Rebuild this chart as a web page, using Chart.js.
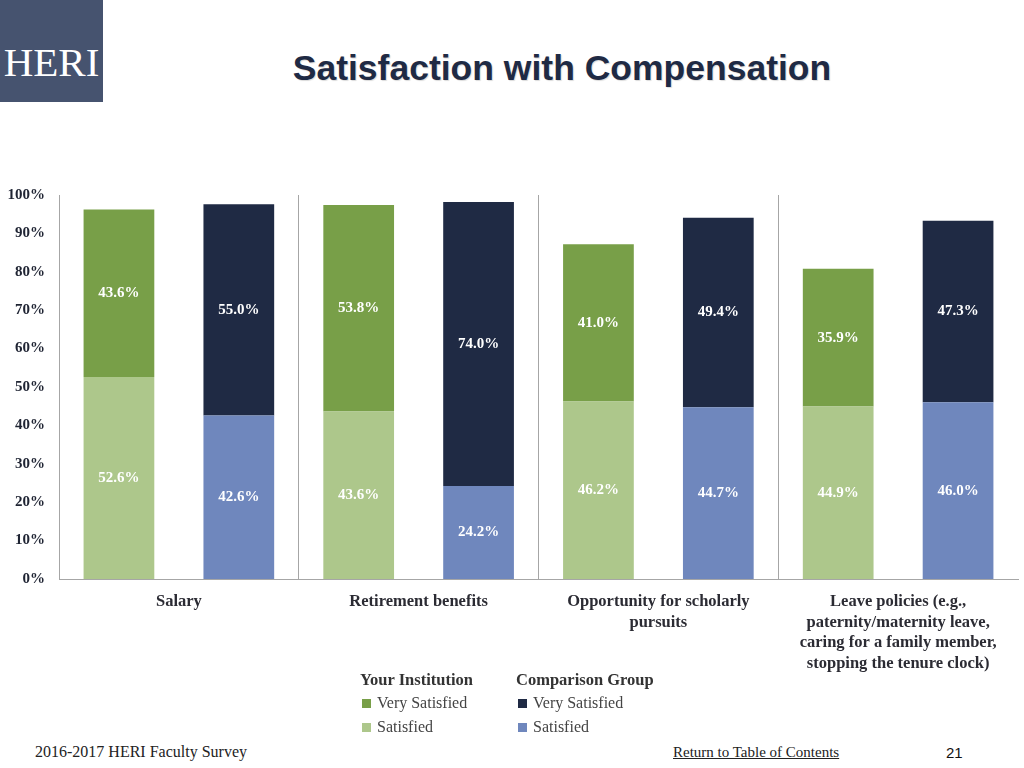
<!DOCTYPE html>
<html>
<head>
<meta charset="utf-8">
<title>Satisfaction with Compensation</title>
<script src="https://cdn.jsdelivr.net/npm/chart.js@4.4.1/dist/chart.umd.min.js"></script>
<style>
  body { margin: 0; width: 1024px; height: 768px; background: #fff; position: relative; overflow: hidden; font-family: "Liberation Serif", serif; }
  #logo { position: absolute; left: 0; top: 0; width: 103px; height: 102px; background: #46536f; }
  #logo span { position: absolute; left: 0; width: 103px; top: 38px; text-align: center; color: #fff; font-family: "Liberation Serif", serif; font-size: 41px; line-height: 48px; }
  #title { position: absolute; left: 0; width: 1124px; top: 46px; text-align: center; font-family: "Liberation Sans", Arial, sans-serif; font-weight: bold; font-size: 35.5px; line-height: 44px; color: #1f2a44; text-shadow: 1px 1px 1px rgba(0,0,0,0.15); }
  #chartBox { position: absolute; left: 0; top: 172px; width: 1024px; height: 508px; }
  #legend { position: absolute; left: 360px; top: 669px; display: flex; }
  .col { width: 156px; }
  .col h4 { margin: 0; font-size: 16.5px; font-weight: bold; color: #333; height: 22px; line-height: 22px; }
  .item { font-size: 16px; color: #444; height: 24px; display: flex; align-items: center; }
  .sw { width: 9px; height: 9px; margin: 0 6px 0 2px; display: inline-block; }
  #footL { position: absolute; left: 35px; top: 743px; font-size: 16px; color: #222; }
  #footM { position: absolute; left: 673px; top: 744px; font-size: 15px; color: #222; text-decoration: underline; }
  #footR { position: absolute; left: 946px; top: 744px; font-size: 15px; color: #111; font-family: "Liberation Sans", Arial, sans-serif; }
</style>
</head>
<body>
<div id="logo"><span>HERI</span></div>
<div id="title">Satisfaction with Compensation</div>
<div id="chartBox"><canvas id="chart"></canvas></div>
<div id="legend"></div>
<div id="footL">2016-2017 HERI Faculty Survey</div>
<div id="footM">Return to Table of Contents</div>
<div id="footR">21</div>
<script>
// categories (x axis)
const categories = [
  "Salary",
  "Retirement benefits",
  ["Opportunity for scholarly", "pursuits"],
  ["Leave policies (e.g.,", "paternity/maternity leave,", "caring for a family member,", "stopping the tenure clock)"]
];

// percentages
const instSatisfied = [52.6, 43.6, 46.2, 44.9];
const instVerySatisfied = [43.6, 53.8, 41.0, 35.9];
const compSatisfied = [42.6, 24.2, 44.7, 46.0];
const compVerySatisfied = [55.0, 74.0, 49.4, 47.3];

const yTicks = [0, 10, 20, 30, 40, 50, 60, 70, 80, 90, 100];

const groups = [
  { name: "Your Institution", stack: "inst" },
  { name: "Comparison Group", stack: "comp" }
];

const serif = '"Liberation Serif", "Times New Roman", serif';

// draws the % value in the middle of every bar segment
const valueLabels = {
  id: "valueLabels",
  afterDatasetsDraw(chart) {
    const ctx = chart.ctx;
    ctx.save();
    ctx.font = "bold 15px " + serif;
    ctx.fillStyle = "#ffffff";
    ctx.textAlign = "center";
    ctx.textBaseline = "middle";
    chart.data.datasets.forEach((ds, i) => {
      const meta = chart.getDatasetMeta(i);
      meta.data.forEach((bar, j) => {
        const p = bar.getProps(["x", "y", "base"], true);
        ctx.fillText(ds.data[j].toFixed(1) + "%", p.x, (p.y + p.base) / 2);
      });
    });
    ctx.restore();
  }
};

const chart = new Chart(document.getElementById("chart"), {
  type: "bar",
  data: {
    labels: categories,
    datasets: [
      { label: "Satisfied", group: 0, stack: "inst", data: instSatisfied, backgroundColor: "#adc78b" },
      { label: "Very Satisfied", group: 0, stack: "inst", data: instVerySatisfied, backgroundColor: "#789f48" },
      { label: "Satisfied", group: 1, stack: "comp", data: compSatisfied, backgroundColor: "#6f87bd" },
      { label: "Very Satisfied", group: 1, stack: "comp", data: compVerySatisfied, backgroundColor: "#1f2a44" }
    ]
  },
  options: {
    responsive: true,
    maintainAspectRatio: false,
    animation: false,
    categoryPercentage: 1.0,
    barPercentage: 0.59,
    layout: { padding: { top: 6, right: 6, left: 0, bottom: 0 } },
    plugins: {
      legend: { display: false },
      tooltip: { enabled: false }
    },
    scales: {
      x: {
        stacked: true,
        grid: {
          display: true,
          offset: true,
          drawTicks: false,
          color: ctx => ctx.type === "tick" ? "#a6a6a6" : "rgba(0,0,0,0)",
          lineWidth: 1
        },
        border: { display: true, color: "#a6a6a6", width: 1 },
        ticks: {
          color: "#2b2b33",
          padding: 13,
          maxRotation: 0,
          autoSkip: false,
          font: { family: serif, size: 16.5, weight: "bold", lineHeight: 1.24 }
        },
        afterFit(scale) { scale.height = 101; }
      },
      y: {
        stacked: true,
        min: 0,
        max: 100,
        afterBuildTicks(scale) { scale.ticks = yTicks.map(v => ({ value: v })); },
        grid: { display: false, drawTicks: false },
        border: { display: true, color: "#a6a6a6", width: 1 },
        ticks: {
          color: "#1f2433",
          padding: 14,
          callback: v => v + "%",
          font: { family: serif, size: 15, weight: "bold" }
        },
        afterFit(scale) { scale.width = 59; }
      }
    }
  },
  plugins: [valueLabels]
});

// legend in two columns, built from the datasets
const legend = document.getElementById("legend");
groups.forEach((g, gi) => {
  const col = document.createElement("div");
  col.className = "col";
  const h = document.createElement("h4");
  h.textContent = g.name;
  col.appendChild(h);
  chart.data.datasets.filter(ds => ds.group === gi).reverse().forEach(ds => {
    const it = document.createElement("div");
    it.className = "item";
    const sw = document.createElement("span");
    sw.className = "sw";
    sw.style.background = ds.backgroundColor;
    it.appendChild(sw);
    it.appendChild(document.createTextNode(ds.label));
    col.appendChild(it);
  });
  legend.appendChild(col);
});
</script>
</body>
</html>
